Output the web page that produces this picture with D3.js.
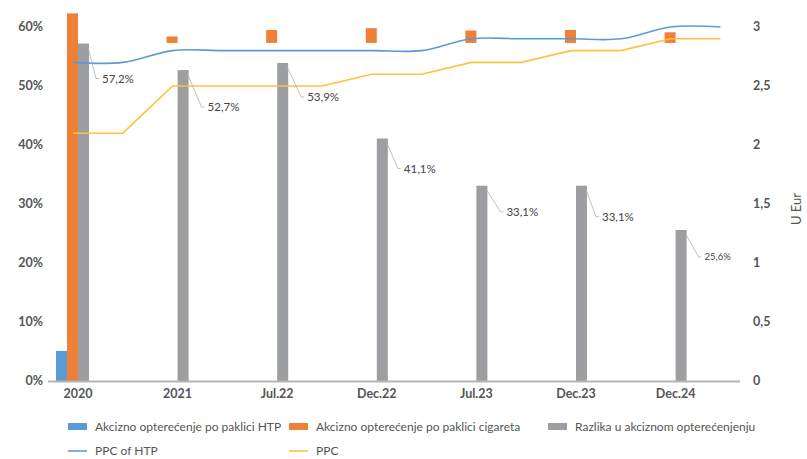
<!DOCTYPE html>
<html>
<head>
<meta charset="utf-8">
<script src="https://cdn.jsdelivr.net/npm/d3@7"></script>
<style>
  body { margin: 0; background: #fff; }
  text { font-family: Lato, "Open Sans", sans-serif; }
</style>
</head>
<body>
<svg id="chart" width="807" height="459"></svg>
<script>
// categories on the bar axis
let categories = ["2020", "2021", "Jul.22", "Dec.22", "Jul.23", "Dec.23", "Dec.24"];

// bar series, in percent
let htpExcise = [5.1, 0, 0, 0, 0, 0, 0];
// cigarette excise: visible part of each bar [from, to]
let cigExcise = [[0, 62.3], [57.3, 58.4], [57.3, 59.5], [57.3, 59.8], [57.3, 59.4], [57.3, 59.5], [57.3, 59.1]];
let difference = [57.2, 52.7, 53.9, 41.1, 33.1, 33.1, 25.6];
let diffLabels = ["57,2%", "52,7%", "53,9%", "41,1%", "33,1%", "33,1%", "25,6%"];

// line series on the secondary axis, two points per period
let linePeriods = ["2020", "2020b", "2021", "2021b", "Jul.22", "Jul.22b", "Dec.22", "Dec.22b",
                   "Jul.23", "Jul.23b", "Dec.23", "Dec.23b", "Dec.24", "Dec.24b"];
let ppcHtp = [2.7, 2.7, 2.8, 2.8, 2.8, 2.8, 2.8, 2.8, 2.9, 2.9, 2.9, 2.9, 3.0, 3.0];
let ppc = [2.1, 2.1, 2.5, 2.5, 2.5, 2.5, 2.6, 2.6, 2.7, 2.7, 2.8, 2.8, 2.9, 2.9];

let leftTicks = [0, 10, 20, 30, 40, 50, 60];
let rightTicks = [0, 0.5, 1, 1.5, 2, 2.5, 3];

// label offsets from the top right corner of each grey bar
let labelOffsets = [[13, 35], [19, 37], [19, 34], [16, 30], [19, 26], [15, 31], [18, 27]];

let colBlue = "#5b9bd5", colOrange = "#ef8038", colGrey = "#9d9ea2", colYellow = "#ffc23a";
let textCol = "#555";

let svg = d3.select("#chart");

let x0 = d3.scaleBand().domain(categories).range([28.2, 725.4]);
let x1 = d3.scaleBand().domain(["htp", "cig", "diff", "none"]).range([-22, 22]);
let xl = d3.scalePoint().domain(linePeriods).range([73, 720.4]);
let y = d3.scaleLinear().domain([0, 60]).range([381, 27]);
let y2 = d3.scaleLinear().domain([0, 3]).range([381, 27]);

function mid(c) { return x0(c) + x0.bandwidth() / 2; }

// left axis labels
svg.append("g").selectAll("text")
    .data(leftTicks)
    .enter().append("text")
      .attr("x", 43)
      .attr("y", d => y(d))
      .attr("dy", "0.35em")
      .attr("text-anchor", "end")
      .attr("font-size", "12.5px")
      .attr("font-weight", "bold")
      .attr("fill", textCol)
      .text(d => d + "%");

// right axis labels
svg.append("g").selectAll("text")
    .data(rightTicks)
    .enter().append("text")
      .attr("x", 753)
      .attr("y", d => y2(d))
      .attr("dy", "0.35em")
      .attr("font-size", "12.5px")
      .attr("font-weight", "bold")
      .attr("fill", textCol)
      .text(d => String(d).replace(".", ","));

svg.append("text")
    .attr("transform", "translate(801,209) rotate(-90)")
    .attr("text-anchor", "middle")
    .attr("font-size", "13px")
    .attr("fill", textCol)
    .text("U Eur");

// bars
svg.append("g").selectAll("rect")
    .data(categories)
    .enter().append("rect")
      .attr("x", (d, i) => mid(d) + x1("htp"))
      .attr("y", (d, i) => y(htpExcise[i]))
      .attr("width", x1.bandwidth())
      .attr("height", (d, i) => y(0) - y(htpExcise[i]))
      .attr("fill", colBlue);

svg.append("g").selectAll("rect")
    .data(categories)
    .enter().append("rect")
      .attr("x", (d, i) => mid(d) + x1("cig"))
      .attr("y", (d, i) => y(cigExcise[i][1]))
      .attr("width", x1.bandwidth())
      .attr("height", (d, i) => y(cigExcise[i][0]) - y(cigExcise[i][1]))
      .attr("fill", colOrange);

svg.append("g").selectAll("rect")
    .data(categories)
    .enter().append("rect")
      .attr("x", (d, i) => mid(d) + x1("diff"))
      .attr("y", (d, i) => y(difference[i]))
      .attr("width", x1.bandwidth())
      .attr("height", (d, i) => y(0) - y(difference[i]))
      .attr("fill", colGrey);

// x axis line
svg.append("line")
    .attr("x1", 48).attr("x2", 740)
    .attr("y1", y(0) + 0.5).attr("y2", y(0) + 0.5)
    .attr("stroke", "#b4b4b6")
    .attr("stroke-width", 2);

svg.append("g").selectAll("text")
    .data(categories)
    .enter().append("text")
      .attr("x", d => mid(d))
      .attr("y", 398)
      .attr("text-anchor", "middle")
      .attr("font-size", "12.5px")
      .attr("font-weight", "bold")
      .attr("fill", textCol)
      .text(d => d);

// lines
let lineGen = d3.line()
    .x((d, i) => xl(linePeriods[i]))
    .y(d => y2(d))
    .curve(d3.curveCatmullRom.alpha(0));

svg.append("path")
    .datum(ppc)
    .attr("d", d3.line().x((d, i) => xl(linePeriods[i])).y(d => y2(d)))
    .attr("fill", "none")
    .attr("stroke", colYellow)
    .attr("stroke-width", 1.6);

svg.append("path")
    .datum(ppcHtp)
    .attr("d", lineGen)
    .attr("fill", "none")
    .attr("stroke", colBlue)
    .attr("stroke-width", 1.6);

// data labels with leader lines
let lab = svg.append("g");
categories.forEach(function(c, i) {
    let bx = mid(c) + x1("diff") + x1.bandwidth();
    let by = y(difference[i]);
    let tx = bx + labelOffsets[i][0];
    let ty = by + labelOffsets[i][1];
    lab.append("polyline")
        .attr("points", [[bx - 1, by + 4], [tx - 6, ty], [tx - 3, ty]].map(p => p.join(",")).join(" "))
        .attr("fill", "none")
        .attr("stroke", "#b0b0b0")
        .attr("stroke-width", 0.8);
    lab.append("text")
        .attr("x", tx)
        .attr("y", ty)
        .attr("dy", "0.35em")
        .attr("font-size", i == 6 ? "9.5px" : "11.5px")
        .attr("fill", "#444")
        .text(diffLabels[i]);
});

// legend
let legendBars = [
    {name: "Akcizno opterećenje po paklici HTP", color: colBlue, x: 68},
    {name: "Akcizno opterećenje po paklici cigareta", color: colOrange, x: 289},
    {name: "Razlika u akciznom opterećenjenju", color: colGrey, x: 548}
];
let legendLines = [
    {name: "PPC of HTP", color: colBlue, x: 68},
    {name: "PPC", color: colYellow, x: 289}
];

let leg = svg.append("g");
legendBars.forEach(function(l) {
    leg.append("rect").attr("x", l.x).attr("y", 423).attr("width", 19).attr("height", 7).attr("fill", l.color);
    leg.append("text").attr("x", l.x + 27).attr("y", 427).attr("dy", "0.35em")
        .attr("font-size", "12px").attr("fill", textCol).text(l.name);
});
legendLines.forEach(function(l) {
    leg.append("line").attr("x1", l.x).attr("x2", l.x + 19).attr("y1", 451).attr("y2", 451)
        .attr("stroke", l.color).attr("stroke-width", 1.6);
    leg.append("text").attr("x", l.x + 27).attr("y", 451).attr("dy", "0.35em")
        .attr("font-size", "12px").attr("fill", textCol).text(l.name);
});
</script>
</body>
</html>
